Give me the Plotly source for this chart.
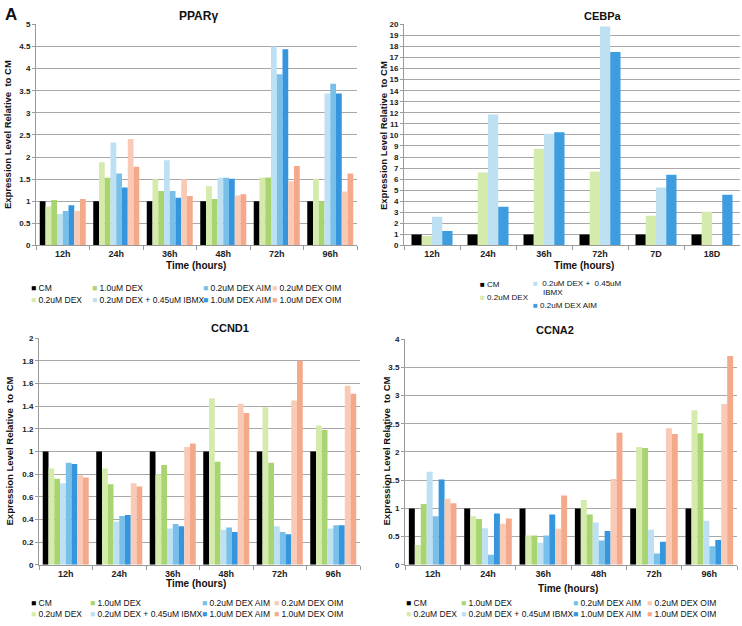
import plotly.graph_objects as go

W, H = 742, 626

# ---------------- data ----------------
series_names = ["CM", "0.2uM DEX", "1.0uM DEX", "0.2uM DEX + 0.45uM IBMX",
                "0.2uM DEX AIM", "1.0uM DEX AIM", "0.2uM DEX OIM", "1.0uM DEX OIM"]
series_colors = ["#000000", "#d5ebab", "#a8d56f", "#bde0f3",
                 "#78bfe9", "#3596dd", "#f9cab5", "#f5a98b"]

time_labels = ["12h", "24h", "36h", "48h", "72h", "96h"]
cebpa_labels = ["12h", "24h", "36h", "72h", "7D", "18D"]

# rows follow series_names order
pparg_values = [
    [1.00, 1.00, 1.00, 1.00, 1.00, 1.00],
    [0.88, 1.88, 1.50, 1.34, 1.54, 1.51],
    [1.03, 1.53, 1.23, 1.05, 1.54, 1.00],
    [0.71, 2.33, 1.93, 1.53, 4.50, 3.44],
    [0.78, 1.63, 1.23, 1.53, 3.87, 3.66],
    [0.91, 1.31, 1.08, 1.51, 4.44, 3.44],
    [0.78, 2.41, 1.50, 1.13, 1.45, 1.22],
    [1.05, 1.78, 1.12, 1.16, 1.80, 1.63],
]

cebpa_series = ["CM", "0.2uM DEX", "0.2uM DEX + 0.45uM IBMX", "0.2uM DEX AIM"]
cebpa_colors = ["#000000", "#d5ebab", "#bde0f3", "#3d9de0"]
cebpa_values = [
    [1.00, 1.00, 1.00, 1.00, 1.00, 1.00],
    [0.85, 6.60, 8.75, 6.70, 2.70, 3.05],
    [2.60, 11.85, 10.10, 19.80, 5.25, None],
    [1.30, 3.50, 10.25, 17.50, 6.40, 4.60],
]

ccnd1_values = [
    [1.00, 1.00, 1.00, 1.00, 1.00, 1.00],
    [0.85, 0.85, 0.80, 1.47, 1.39, 1.23],
    [0.76, 0.71, 0.88, 0.91, 0.90, 1.19],
    [0.72, 0.38, 0.32, 0.31, 0.34, 0.32],
    [0.90, 0.43, 0.36, 0.33, 0.29, 0.35],
    [0.89, 0.44, 0.34, 0.29, 0.27, 0.35],
    [0.79, 0.72, 1.04, 1.42, 1.45, 1.58],
    [0.77, 0.69, 1.07, 1.34, 1.80, 1.51],
]

ccna2_values = [
    [1.00, 1.00, 1.00, 1.00, 1.00, 1.00],
    [0.35, 0.86, 0.52, 1.15, 2.09, 2.74],
    [1.08, 0.81, 0.52, 0.89, 2.07, 2.33],
    [1.65, 0.65, 0.39, 0.75, 0.62, 0.78],
    [0.86, 0.18, 0.52, 0.43, 0.20, 0.33],
    [1.51, 0.91, 0.89, 0.60, 0.41, 0.44],
    [1.17, 0.73, 0.64, 1.52, 2.42, 2.85],
    [1.09, 0.82, 1.23, 2.34, 2.32, 3.70],
]

# ---------------- layout helpers ----------------
FONT = "Liberation Sans, Arial, sans-serif"

def px_x(x):
    return x / W

def px_y(y):
    return 1 - y / H

panels = {
    # name: (x0, x1, ytop, ybottom) in pixels
    "A": (36, 357, 20.7, 245),
    "B": (404, 740, 20.7, 245),
    "C": (39, 360, 339, 569),
    "D": (405, 737, 340, 569),
}

fig = go.Figure()

def add_group(values, names, colors, xa, ya, width=None):
    n = len(names)
    for i, (nm, col, vals) in enumerate(zip(names, colors, values)):
        kw = {}
        if width is not None:
            kw = dict(width=width, offset=-n * width / 2 + i * width)
        fig.add_trace(go.Bar(
            x=cebpa_labels if xa == "x2" else time_labels, y=vals, name=nm,
            marker=dict(color=col, line=dict(width=0)),
            xaxis=xa, yaxis=ya, showlegend=False, **kw))

add_group(pparg_values, series_names, series_colors, "x", "y")
add_group(cebpa_values, cebpa_series, cebpa_colors, "x2", "y2", width=0.183)
add_group(ccnd1_values, series_names, series_colors, "x3", "y3")
add_group(ccna2_values, series_names, series_colors, "x4", "y4")

tickfont = dict(family=FONT, size=8, color="#222222", weight="bold")
xtickfont = dict(family=FONT, size=9, color="#222222", weight="bold")

axes = {}
yranges = {"A": (5, 0.5), "B": (20, 1), "C": (2, 0.2), "D": (4, 0.5)}
for k, (key, (x0, x1, yt, yb)) in enumerate(panels.items()):
    suffix = "" if k == 0 else str(k + 1)
    top, dt = yranges[key]
    axes["xaxis" + suffix] = dict(
        domain=[px_x(x0), px_x(x1)], anchor="y" + suffix, type="category",
        showline=True, linecolor="#9a9a9a", linewidth=1,
        ticks="outside", tickson="boundaries", ticklen=4, tickcolor="#9a9a9a",
        showgrid=False, tickfont=xtickfont, fixedrange=True,
    )
    axes["yaxis" + suffix] = dict(
        domain=[px_y(yb), px_y(yt)], anchor="x" + suffix,
        range=[0, top], dtick=dt, tick0=0,
        showline=True, linecolor="#9a9a9a", linewidth=1,
        ticks="outside", ticklen=3, tickcolor="#9a9a9a",
        showgrid=True, gridcolor="#a8a8a8", gridwidth=1,
        tickfont=tickfont, zeroline=False, fixedrange=True,
    )

fig.update_layout(
    width=W, height=H,
    margin=dict(l=0, r=0, t=0, b=0),
    paper_bgcolor="white", plot_bgcolor="white",
    barmode="group", bargap=0.14, bargroupgap=0,
    showlegend=False,
    font=dict(family=FONT),
    **axes,
)

annotations = []

def ann(x, y, text, size=9, bold=False, angle=0, xanchor="center", yanchor="middle", color="#111111"):
    annotations.append(dict(
        x=px_x(x), y=px_y(y), xref="paper", yref="paper", text=text,
        showarrow=False, xanchor=xanchor, yanchor=yanchor, textangle=angle,
        font=dict(family=FONT, size=size, color=color, weight="bold" if bold else "normal")))

# panel letter and titles
ann(3, 11, "A", size=17, bold=True, xanchor="left")
ann(198, 12, "PPARγ", size=12, bold=True)
ann(603, 12, "CEBPa", size=11, bold=True)
ann(230, 329, "CCND1", size=11, bold=True)
ann(555, 331, "CCNA2", size=11, bold=True)

# axis titles
for (x, y) in [(196, 265), (584, 265), (196, 588), (568, 593)]:
    ann(x, y, "Time (hours)", size=10, bold=True)
ytitle = "Expression Level Relative  to CM"
ann(7, 133, ytitle, size=9.5, bold=True, angle=-90)
ann(383, 133, ytitle, size=9.5, bold=True, angle=-90)
ann(9, 454, ytitle, size=9.5, bold=True, angle=-90)
ann(386, 454, ytitle, size=9.5, bold=True, angle=-90)

# legends (Excel-style, column-major)
legend_order = [0, 2, 4, 6, 1, 3, 5, 7]

def legend_block(cols_x, rows_y):
    for idx, s in enumerate(legend_order):
        r = idx // 4
        c = idx % 4
        text = "<span style='color:%s'>■</span> %s" % (series_colors[s], series_names[s])
        ann(cols_x[c], rows_y[r], text, size=8.5, xanchor="left")

legend_block([29, 90, 201, 270], [288, 300])
legend_block([29, 88, 200, 272], [608, 619])
legend_block([404, 459, 571, 645], [608, 619])

# CEBPa legend
ann(478, 285, "<span style='color:#000000'>■</span> CM", size=8, xanchor="left")
ann(478, 298, "<span style='color:#d5ebab'>■</span> 0.2uM DEX", size=8, xanchor="left")
ann(531, 284, "<span style='color:#bde0f3'>■</span>  0.2uM DEX +  0.45uM", size=8, xanchor="left")
ann(541, 293, "IBMX", size=8, xanchor="left")
ann(531, 306, "<span style='color:#3d9de0'>■</span> 0.2uM DEX AIM", size=8, xanchor="left")

fig.update_layout(annotations=annotations)

fig.write_html("out.html", config={"displayModeBar": False},
               post_script="document.body.style.margin='0';document.body.style.padding='0';")
